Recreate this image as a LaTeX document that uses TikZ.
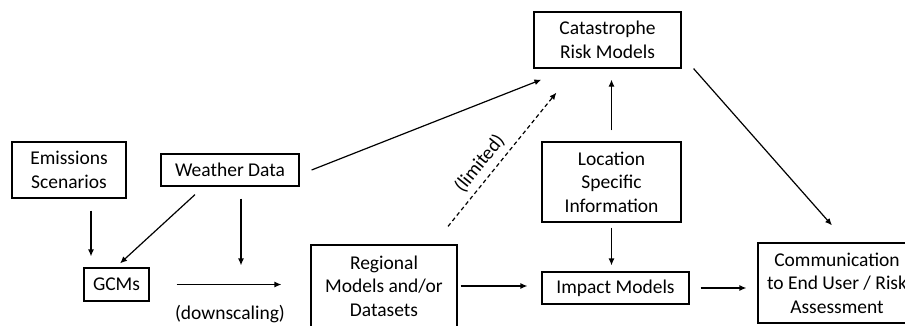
\documentclass[tikz,border=0pt]{standalone}
\usepackage{fontspec}
\setmainfont{Carlito}
\usetikzlibrary{arrows.meta}

\begin{document}
\begin{tikzpicture}[
    x=1pt, y=-1pt,
    font=\fontsize{19.5}{23.5}\selectfont,
    >=Latex,
    block/.style={draw, line width=1.2pt, align=center, inner sep=2pt},
    arrow/.style={-{Latex[length=7pt,width=6pt]}, line width=1.2pt}
]
\useasboundingbox (0,0) rectangle (905,325);
\clip (0,0) rectangle (905,325);

\node[block, minimum width=114, minimum height=56] (emis) at (69,170) {Emissions\\Scenarios};
\node[block, minimum width=138, minimum height=32] (weather) at (230,170) {Weather Data};
\node[block, minimum width=65, minimum height=33] (gcm) at (116.5,284.5) {GCMs};
\node[block, minimum width=146, minimum height=82] (regional) at (384,286) {Regional\\Models and/or\\Datasets};
\node[block, minimum width=147, minimum height=56] (cat) at (607.5,40) {Catastrophe\\Risk Models};
\node[block, minimum width=139, minimum height=80] (loc) at (611.5,182) {Location\\Specific\\Information};
\node[block, minimum width=147, minimum height=32] (impact) at (615.5,288) {Impact Models};
\node[block, minimum width=158, minimum height=80] (comm) at (837,283) {Communication\\to End User / Risk\\Assessment};

\draw[arrow, shorten <=12pt, shorten >=11pt] ([xshift=22pt]emis.south) -- ([xshift=22pt]emis.south |- gcm.north);
\draw[arrow] ([xshift=-35pt,yshift=-8pt]weather.south) -- ([xshift=3.5pt,yshift=4pt]gcm.north);
\draw[arrow, shorten <=12pt, shorten >=2pt] ([xshift=11pt]weather.south) -- ([xshift=11pt]weather.south |- gcm.north);
\draw[arrow, shorten <=27pt, shorten >=29pt] (gcm.east) -- (gcm.east -| regional.west)
    node[midway, yshift=-30pt] (ds) {(downscaling)};
\draw[arrow] ([xshift=12pt]weather.east) -- ([xshift=8pt,yshift=-11pt]cat.south west);
\draw[arrow, dash pattern=on 4pt off 3pt] ([xshift=64pt,yshift=18pt]regional.north) -- ([xshift=23pt,yshift=-24pt]cat.south west)
    node[pos=0.4, sloped, above=6pt, inner sep=0pt] (lim) {(limited)};
\draw[arrow, shorten <=11pt, shorten >=11pt] (loc.north) -- (loc.north |- cat.south);
\draw[arrow, shorten <=5pt, shorten >=6pt] (loc.south) -- (loc.south |- impact.north);
\draw[arrow, shorten <=3pt, shorten >=14pt] (regional.east) -- (regional.east -| impact.west);
\draw[arrow, shorten <=11pt, shorten >=11pt] (impact.east) -- (impact.east -| comm.west);
\draw[arrow] ([xshift=12pt]cat.south east) -- ([xshift=-5pt,yshift=17pt]comm.north);
\end{tikzpicture}
\end{document}
